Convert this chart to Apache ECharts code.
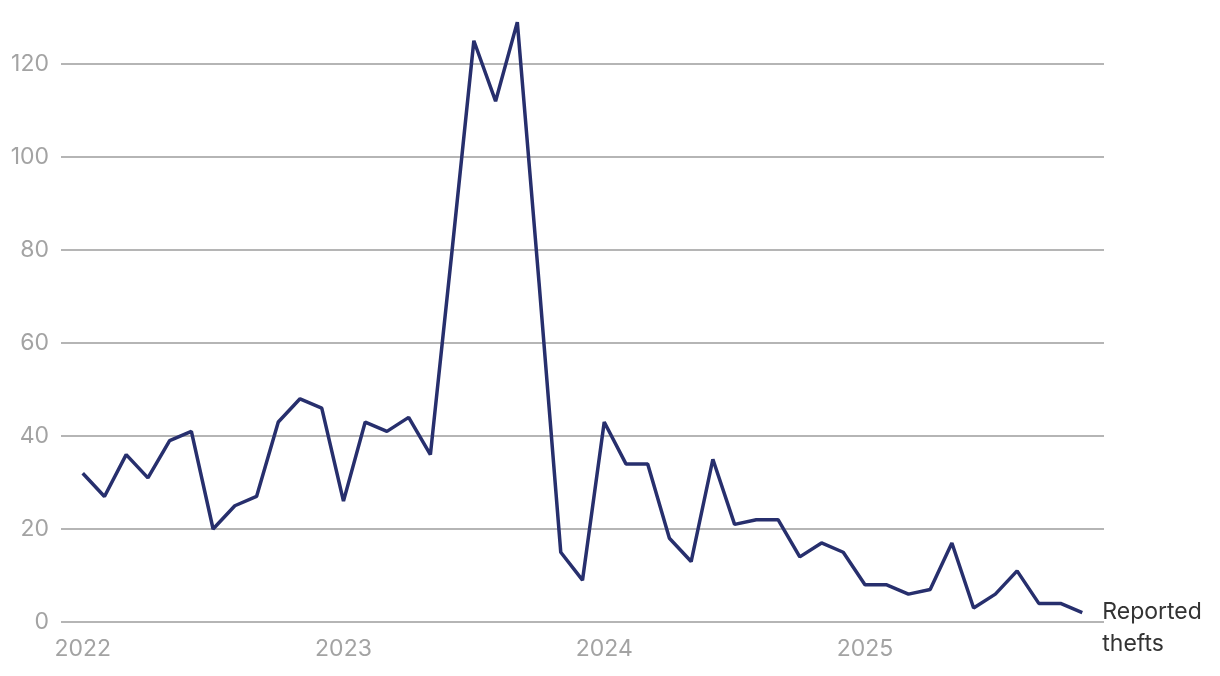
<!DOCTYPE html>
<html>
<head>
<meta charset="utf-8">
<script src="https://cdn.jsdelivr.net/npm/echarts@6/dist/echarts.min.js"></script>
<style>
  html, body { margin: 0; padding: 0; background: #fff; }
  #main { width: 1220px; height: 676px; }
</style>
</head>
<body>
<div id="main"></div>
<script>
  // monthly reported thefts, Jan 2022 - Nov 2025
  var thefts = [
    32, 27, 36, 31, 39, 41, 20, 25, 27, 43, 48, 46,
    26, 43, 41, 44, 36, 80, 125, 112, 129, 73, 15, 9,
    43, 34, 34, 18, 13, 35, 21, 22, 22, 14, 17, 15,
    8, 8, 6, 7, 17, 3, 6, 11, 4, 4, 2
  ];
  var yearLabels = ['2022', '2023', '2024', '2025'];
  var yearTicks = [0, 12, 24, 36]; // month index of each January
  var seriesName = 'Reported\nthefts';

  var myChart = echarts.init(document.getElementById('main'));
  var fontFamily = 'Inter, Lato, sans-serif';

  var option = {
    animation: false,
    grid: {
      left: 61,
      right: 116,
      top: 64,
      bottom: 54
    },
    xAxis: {
      type: 'value',
      min: -1,
      max: 47,
      axisLine: { show: false },
      axisTick: { show: false },
      splitLine: { show: false },
      axisLabel: {
        customValues: yearTicks,
        formatter: function (v) {
          return yearLabels[yearTicks.indexOf(v)];
        },
        color: '#a3a3a3',
        fontSize: 23,
        fontFamily: fontFamily,
        margin: 16
      }
    },
    yAxis: {
      type: 'value',
      min: 0,
      max: 120,
      interval: 20,
      axisLine: { show: false },
      axisTick: { show: false },
      axisLabel: {
        color: '#a3a3a3',
        fontSize: 23,
        fontFamily: fontFamily,
        margin: 12
      },
      splitLine: {
        lineStyle: { color: '#9d9d9d', width: 1.5 }
      }
    },
    series: [{
      type: 'line',
      name: seriesName,
      clip: false,
      symbol: 'none',
      lineStyle: { color: '#272f6d', width: 3.5 },
      endLabel: {
        show: true,
        formatter: seriesName,
        color: '#333',
        fontSize: 23,
        lineHeight: 32,
        fontFamily: fontFamily,
        distance: 20,
        offset: [0, 15]
      },
      data: thefts.map(function (v, i) { return [i, v]; })
    }]
  };
  myChart.setOption(option);
</script>
</body>
</html>
